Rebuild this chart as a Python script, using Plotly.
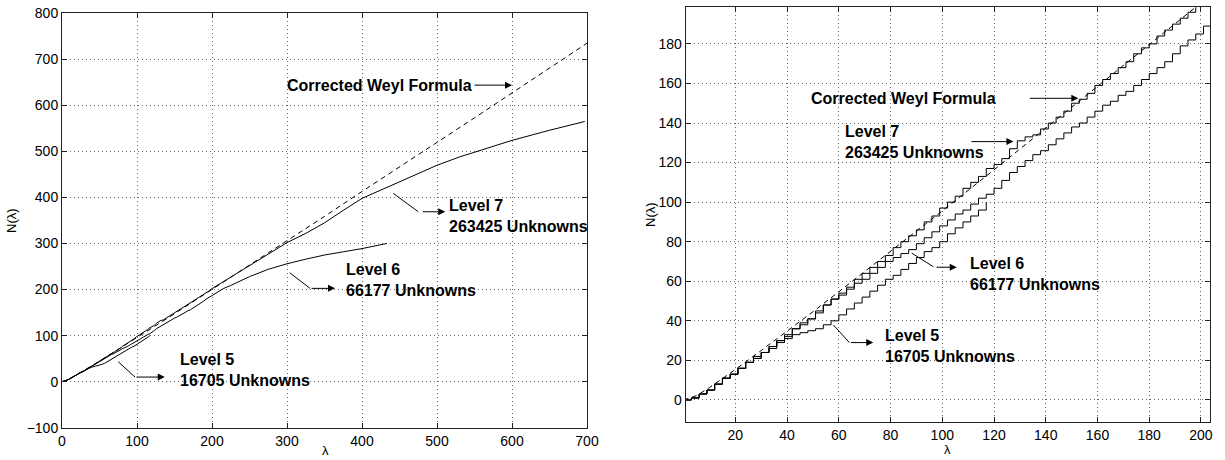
import plotly.graph_objects as go

# ---------------- data ----------------
lam_weyl = [0, 5, 10, 20, 30, 40, 50, 60, 80, 100, 120, 140, 160, 180, 200,
            250, 300, 350, 400, 450, 500, 550, 600, 650, 700]
n_weyl = [0, 2.2, 6.3, 15.4, 25.0, 34.7, 44.6, 54.7, 75.0, 95.6, 116.3, 137.1, 158.0, 179.0, 200.0,
          253, 306, 359, 413, 466, 520, 573, 627, 681, 735]

lam7 = [0, 3, 6, 9, 12, 15, 18, 21, 24, 27, 30, 33, 36, 39, 42, 45, 48, 51, 54, 57,
        60, 63, 66, 69, 72, 75, 78, 81, 84, 87, 90, 93, 96, 99, 102, 105, 108, 111, 114, 117,
        120, 123, 126, 129, 132, 135, 138, 141, 144, 147, 150, 153, 156, 159, 162, 165, 168, 171, 174, 177,
        180, 183, 186, 189, 192, 195, 198, 201, 204,
        225, 250, 275, 300, 325, 350, 375, 400, 425, 450, 475, 500, 530, 560, 600, 650, 697]
n7 = [0, 1, 3, 5, 8, 11, 13, 16, 19, 21, 24, 27, 30, 32, 36, 39, 41, 45, 48, 51,
      54, 57, 61, 64, 67, 70, 73, 77, 80, 83, 86, 90, 93, 97, 100, 103, 107, 110, 113, 117,
      119, 122, 127, 131, 133, 134, 137, 140, 143, 146, 150, 152, 155, 159, 162, 165, 168, 171, 175, 178,
      180, 184, 187, 190, 193, 196, 200, 203, 206,
      227, 252, 277, 302, 322, 345, 372, 398, 416, 434, 452, 470, 488, 503, 524, 546, 565]

lam6 = [0, 3, 6, 9, 12, 15, 18, 21, 24, 27, 30, 33, 36, 39, 42, 45, 48, 51, 54, 57,
        60, 63, 66, 69, 72, 75, 78, 81, 84, 87, 90, 93, 96, 99, 102, 105, 108, 111, 114, 117,
        120, 123, 126, 129, 132, 135, 138, 141, 144, 147, 150, 153, 156, 159, 162, 165, 168, 171, 174, 177,
        180, 183, 186, 189, 192, 195, 198, 201, 204,
        215, 225, 250, 275, 300, 325, 350, 375, 400, 433]
n6 = [0, 1, 3, 5, 8, 11, 13, 16, 19, 22, 24, 27, 30, 33, 36, 38, 41, 44, 48, 51,
      53, 56, 59, 61, 64, 67, 70, 72, 74, 76, 79, 82, 85, 88, 91, 94, 96, 99, 102, 104,
      107, 111, 115, 118, 121, 124, 126, 129, 132, 135, 138, 140, 143, 146, 149, 151, 154, 156, 159, 162,
      165, 168, 171, 175, 179, 182, 185, 189, 192,
      202, 209, 228, 244, 256, 266, 275, 282, 289, 300]

lam5 = [0, 3, 6, 9, 12, 15, 18, 21, 24, 27, 30, 33, 36, 39, 42, 45, 48, 51, 54, 57,
        60, 63, 66, 69, 72, 75, 78, 81, 84, 87, 90, 93, 96, 99, 102, 105, 108, 111, 114, 117]
n5 = [0, 1, 3, 5, 8, 11, 13, 16, 19, 21, 24, 26, 29, 31, 33, 34, 35, 36, 38, 40,
      43, 46, 49, 52, 55, 58, 61, 63, 66, 69, 72, 75, 77, 80, 84, 87, 90, 93, 96, 100]

left_xticks = [0, 100, 200, 300, 400, 500, 600, 700]
left_yticks = [-100, 0, 100, 200, 300, 400, 500, 600, 700, 800]
right_xticks = [20, 40, 60, 80, 100, 120, 140, 160, 180, 200]
right_yticks = [0, 20, 40, 60, 80, 100, 120, 140, 160, 180]

label_weyl = "Corrected Weyl Formula"
label7 = "Level 7<br>263425 Unknowns"
label6 = "Level 6<br>66177 Unknowns"
label5 = "Level 5<br>16705 Unknowns"

# ---------------- figure ----------------
W, H = 1225, 460
FONT = "Liberation Sans, Arial, Helvetica, sans-serif"
fig = go.Figure()

for xa, ya, shape in (("x", "y", "linear"), ("x2", "y2", "hv")):
    fig.add_trace(go.Scatter(x=lam_weyl, y=n_weyl, mode="lines", xaxis=xa, yaxis=ya,
                             line=dict(color="black", width=1, dash="5px,4px"), showlegend=False))
    for lx, ny in ((lam7, n7), (lam6, n6), (lam5, n5)):
        fig.add_trace(go.Scatter(x=lx, y=ny, mode="lines", xaxis=xa, yaxis=ya,
                                 line=dict(color="black", width=1, shape=shape), showlegend=False))

axis_common = dict(showline=True, linecolor="#222", linewidth=1, mirror="ticks",
                   ticks="inside", ticklen=5, tickcolor="#222", automargin=False,
                   showgrid=True, gridcolor="#666", gridwidth=1, griddash="1px,3px",
                   zeroline=False, tickfont=dict(family=FONT, size=14, color="black"))

fig.update_layout(
    template="none",
    width=W, height=H, autosize=False, margin=dict(l=0, r=0, t=0, b=0, pad=0, autoexpand=False),
    paper_bgcolor="white", plot_bgcolor="white",
    xaxis=dict(domain=[62 / W, 587 / W], range=[0, 700], tickvals=left_xticks, anchor="y", **axis_common),
    yaxis=dict(domain=[(H - 427.7) / H, (H - 13.3) / H], range=[-100, 800], tickvals=left_yticks,
               anchor="x", **axis_common),
    xaxis2=dict(domain=[685.7 / W, 1210 / W], range=[0.8, 203.5], tickvals=right_xticks, anchor="y2",
                **axis_common),
    yaxis2=dict(domain=[(H - 422.3) / H, (H - 7.3) / H], range=[-11.3, 198.5], tickvals=right_yticks,
                anchor="x2", **axis_common),
)

ann = []
shapes = []
bold = dict(family=FONT, size=16, color="black")


def text(xr, yr, x, y, s):
    ann.append(dict(xref=xr, yref=yr, x=x, y=y, text="<b>" + s + "</b>", showarrow=False,
                    xanchor="left", yanchor="middle", align="left", font=bold))


def arrow(xr, yr, x0, y0, x1, y1):
    ann.append(dict(xref=xr, yref=yr, axref=xr, ayref=yr, x=x1, y=y1, ax=x0, ay=y0, text="",
                    showarrow=True, arrowhead=2, arrowsize=1.4, arrowwidth=1, arrowcolor="black",
                    standoff=0, startstandoff=0))


def seg(xr, yr, x0, y0, x1, y1):
    shapes.append(dict(type="line", xref=xr, yref=yr, x0=x0, y0=y0, x1=x1, y1=y1,
                       line=dict(color="black", width=1)))


# left panel
text("x", "y", 297, 644, label_weyl)
arrow("x", "y", 548, 644, 600, 644)
text("x", "y", 513, 359, label7)
seg("x", "y", 441.7, 409, 475, 369)
arrow("x", "y", 479, 369, 511, 369)
text("x", "y", 376.4, 220.7, label6)
seg("x", "y", 303.7, 236.5, 330.7, 202.6)
arrow("x", "y", 330.7, 202.6, 364, 202.6)
text("x", "y", 155, 25.2, label5)
seg("x", "y", 75, 43.2, 97.3, 10)
arrow("x", "y", 97.3, 10, 137, 10)

# right panel
text("x2", "y2", 48.5, 152.5, label_weyl)
arrow("x2", "y2", 133.3, 152.5, 152.6, 152.5)
text("x2", "y2", 61.7, 130.3, label7)
arrow("x2", "y2", 110.7, 130.6, 127.5, 130.6)
text("x2", "y2", 109.8, 63.5, label6)
seg("x2", "y2", 88.2, 74.2, 96.5, 67.4)
arrow("x2", "y2", 97.2, 67.1, 105.6, 67.1)
text("x2", "y2", 77, 27.1, label5)
seg("x2", "y2", 57.9, 37.9, 64.1, 29)
arrow("x2", "y2", 64.1, 29, 73.3, 29)

# axis titles
reg = dict(family=FONT, size=13, color="black")
ann.append(dict(xref="paper", yref="paper", x=325 / W, y=1 - 450 / H, text="λ", showarrow=False,
                xanchor="center", yanchor="middle", font=reg))
ann.append(dict(xref="paper", yref="paper", x=947 / W, y=1 - 449 / H, text="λ", showarrow=False,
                xanchor="center", yanchor="middle", font=reg))
ann.append(dict(xref="paper", yref="paper", x=11 / W, y=1 - 221 / H, text="N(λ)", showarrow=False,
                textangle=-90, xanchor="center", yanchor="middle", font=reg))
ann.append(dict(xref="paper", yref="paper", x=650 / W, y=1 - 215 / H, text="N(λ)", showarrow=False,
                textangle=-90, xanchor="center", yanchor="middle", font=reg))

fig.update_layout(annotations=ann, shapes=shapes)

post = ("document.body.style.margin='0px';document.body.style.padding='0px';"
        "document.body.style.overflow='hidden';")
fig.write_html("out.html", config={"responsive": False, "displayModeBar": False}, post_script=post)
